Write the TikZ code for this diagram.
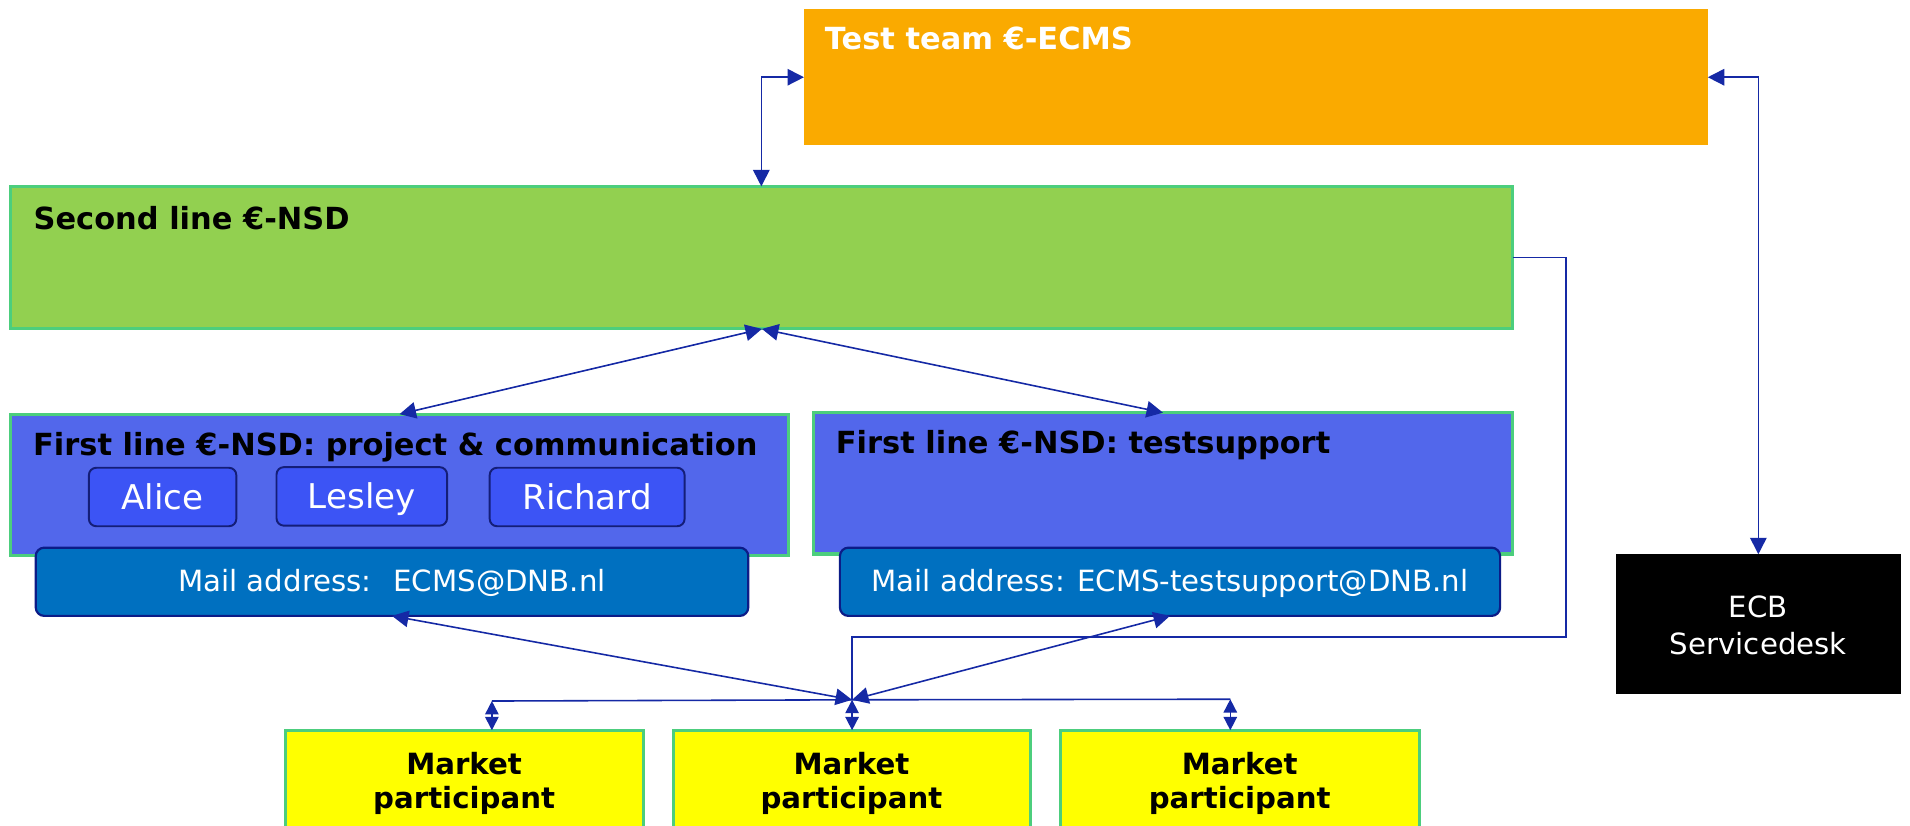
\documentclass[tikz,border=0pt]{standalone}
\usepackage{fontspec}
\setmainfont{DejaVu Sans}
\usetikzlibrary{arrows.meta,calc}
\definecolor{orangebox}{RGB}{250,170,0}
\definecolor{greenfill}{RGB}{146,208,80}
\definecolor{greenedge}{RGB}{76,206,125}
\definecolor{bluefill}{RGB}{82,103,235}
\definecolor{namefill}{RGB}{60,84,245}
\definecolor{nameedge}{RGB}{20,30,120}
\definecolor{mailfill}{RGB}{0,112,192}
\definecolor{mailedge}{RGB}{12,28,135}
\definecolor{linkcol}{RGB}{21,41,165}
\definecolor{mpyellow}{RGB}{255,255,0}
\tikzset{
  box/.style={anchor=north west, inner sep=0pt, outer sep=0pt},
  orangestyle/.style={box, fill=orangebox},
  greenstyle/.style={box, fill=greenfill, draw=greenedge, line width=2.5pt},
  bluestyle/.style={box, fill=bluefill, draw=greenedge, line width=2.5pt},
  namestyle/.style={box, fill=namefill, draw=nameedge, line width=1.6pt, rounded corners=6pt,
     text=white, font=\fontsize{28}{32}\selectfont, text height=23pt, text depth=3pt},
  mailstyle/.style={box, fill=mailfill, draw=mailedge, line width=1.8pt, rounded corners=7pt,
     text=white, font=\fontsize{24}{28}\selectfont, text height=21pt, text depth=5pt},
  mpstyle/.style={box, fill=mpyellow, draw=greenedge, line width=2.5pt},
  title/.style={anchor=base west, inner sep=0pt, font=\bfseries\fontsize{25}{30}\selectfont},
  mptext/.style={anchor=north, inner sep=0pt, align=center, font=\bfseries\fontsize{24}{28}\selectfont},
  link/.style={draw=linkcol, line width=1.3pt},
  tips/.style={link, {Triangle[length=13.5pt,width=13.5pt]}-{Triangle[length=13.5pt,width=13.5pt]}},
  smalltips/.style={link, {Triangle[length=11pt,width=11pt]}-{Triangle[length=11pt,width=11pt]}},
}
\begin{document}
\begin{tikzpicture}[x=1pt,y=-1pt]
\useasboundingbox[fill=white] (0,0) rectangle (1568,677.3);

% boxes
\node[orangestyle, minimum width=742pt, minimum height=112pt] (test) at (660,7.4) {};
\node[title, text=white] (testT) at (677,41) {Test team €-ECMS};

\node[greenstyle, minimum width=1233pt, minimum height=117pt] (second) at (9,153) {};
\node[title] (secondT) at (27.4,188.3) {Second line €-NSD};

\node[bluestyle, minimum width=638pt, minimum height=116pt] (fl1) at (9,340) {};
\node[title] (fl1T) at (27,373.6) {First line €-NSD: project \& communication};

\node[bluestyle, minimum width=574.5pt, minimum height=116pt] (fl2) at (667.5,338.8) {};
\node[title] (fl2T) at (686,372) {First line €-NSD: testsupport};

\node[namestyle, minimum width=121pt, minimum height=48pt] (alice) at (73,384) {Alice};
\node[namestyle, minimum width=140pt, minimum height=48pt] (lesley) at (227,383.5) {Lesley};
\node[namestyle, minimum width=160pt, minimum height=48pt] (richard) at (402,384) {Richard};

\node[mailstyle, minimum width=585pt, minimum height=56pt] (mail1) at (29.3,449.6) {Mail address:~ ECMS@DNB.nl};
\node[mailstyle, minimum width=542pt, minimum height=56pt] (mail2) at (689.5,449.6) {Mail address: ECMS-testsupport@DNB.nl};

\node[box, fill=black, minimum width=234pt, minimum height=115pt] (ecb) at (1326.5,455) {};
\node[anchor=north, inner sep=0pt, align=center, text=white, font=\fontsize{24}{30}\selectfont] (ecbT) at (1443.5,489) {ECB\\Servicedesk};

\node[mpstyle, minimum width=294pt, minimum height=120pt] (mp1) at (234,599.5) {};
\node[mpstyle, minimum width=293pt, minimum height=120pt] (mp2) at (552.6,599.5) {};
\node[mpstyle, minimum width=294.5pt, minimum height=120pt] (mp3) at (870.5,599.5) {};
\node[mptext] (mp1T) at (381,617.3) {Market\\participant};
\node[mptext] (mp2T) at (699,617.3) {Market\\participant};
\node[mptext] (mp3T) at (1017.7,617.3) {Market\\participant};

% coordinates
\coordinate (tA) at (625,0);
\coordinate (rA) at (1285.5,523);
\coordinate (hub) at (699.5,574.5);
\coordinate (hl) at (403.8,575.5);
\coordinate (hr) at (1010,574);

% connectors
\draw[tips] (test.west) -| (tA |- second.north);
\draw[tips] (test.east) -| (ecb.north);
\draw[link] (second.east) -| (rA) -| (hub);
\draw[tips] (second.south) -- (fl1.north);
\draw[tips] (second.south) -- (fl2.north);
\draw[tips] (mail1.south) -- (hub);
\draw[tips] (mail2.south) -- (hub);
\draw[link] (hl) -- (hub) -- (hr);
\draw[smalltips] (hl) -- (hl |- mp1.north);
\draw[smalltips] (hub) -- (hub |- mp2.north);
\draw[smalltips] (hr) -- (hr |- mp3.north);
\end{tikzpicture}
\end{document}
